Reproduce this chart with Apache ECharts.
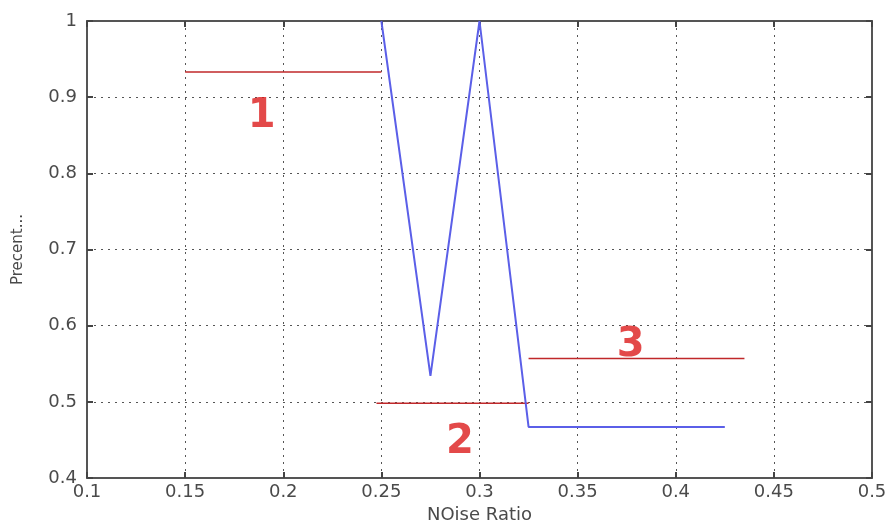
<!DOCTYPE html>
<html>
<head>
<meta charset="utf-8">
<script src="https://cdn.jsdelivr.net/npm/echarts@6/dist/echarts.min.js"></script>
<style>
  html, body { margin: 0; padding: 0; background: #fff; }
  #chart { width: 888px; height: 523px; }
</style>
</head>
<body>
<div id="chart"></div>
<script>
// Measured curve: noise ratio vs. precent
const noiseRatio = [0.25, 0.275, 0.3, 0.325, 0.425];
const precent = [1.0, 0.534, 1.0, 0.467, 0.467];

// Horizontal reference segments [xStart, xEnd, level]
const segment1 = [0.15, 0.25, 0.933];
const segment2 = [0.2475, 0.325, 0.498];
const segment3 = [0.325, 0.435, 0.557];

// Region labels and where they sit
const regionNames = ['1', '2', '3'];
const regionX = [0.189, 0.290, 0.377];
const regionY = [0.875, 0.447, 0.574];

// Axis ticks
const xTicks = [0.1, 0.15, 0.2, 0.25, 0.3, 0.35, 0.4, 0.45, 0.5];
const yTicks = [0.4, 0.5, 0.6, 0.7, 0.8, 0.9, 1];

const FONT = 'DejaVu Sans';
const chart = echarts.init(document.getElementById('chart'));

const seg = s => [[s[0], s[2]], [s[1], s[2]]];
const redStyle = { color: '#c0282a', width: 1.5 };

const gridLine = {
  show: true,
  lineStyle: { color: '#555', type: [2, 5], width: 1 }
};

const frameAxisLine = { show: true, lineStyle: { color: '#555', width: 2 } };
const frameTick = { show: true, inside: true, length: 6, lineStyle: { color: '#444', width: 2 } };

chart.setOption({
  animation: false,
  grid: {
    left: 87, right: 16, top: 21, bottom: 45, show: false,
    containLabel: false, outerBoundsMode: 'none'
  },
  xAxis: [
    {
      type: 'value', min: xTicks[0], max: xTicks[xTicks.length - 1], interval: 0.05,
      name: 'NOise Ratio', nameLocation: 'middle', nameGap: 26,
      nameTextStyle: { fontFamily: FONT, fontSize: 18, color: '#4a4a4a' },
      axisLine: frameAxisLine,
      axisTick: frameTick,
      axisLabel: { fontFamily: FONT, fontSize: 18, color: '#4a4a4a', margin: 5 },
      splitLine: gridLine
    },
    {
      type: 'value', position: 'top', min: xTicks[0], max: xTicks[xTicks.length - 1], interval: 0.05,
      axisLine: frameAxisLine,
      axisTick: frameTick,
      axisLabel: { show: false },
      splitLine: { show: false }
    }
  ],
  yAxis: [
    {
      type: 'value', min: yTicks[0], max: yTicks[yTicks.length - 1], interval: 0.1,
      name: 'Precent...', nameLocation: 'middle', nameGap: 61, nameRotate: 90,
      nameTextStyle: { fontFamily: FONT, fontSize: 15, color: '#4a4a4a' },
      axisLine: frameAxisLine,
      axisTick: frameTick,
      axisLabel: { fontFamily: FONT, fontSize: 18, color: '#4a4a4a', margin: 10,
        formatter: v => String(Math.round(v * 10) / 10) },
      splitLine: gridLine
    },
    {
      type: 'value', position: 'right', min: yTicks[0], max: yTicks[yTicks.length - 1], interval: 0.1,
      axisLine: frameAxisLine,
      axisTick: frameTick,
      axisLabel: { show: false },
      splitLine: { show: false }
    }
  ],
  series: [
    { type: 'line', data: seg(segment1), symbol: 'none', lineStyle: redStyle, z: 3 },
    { type: 'line', data: seg(segment2), symbol: 'none', lineStyle: redStyle, z: 3 },
    { type: 'line', data: seg(segment3), symbol: 'none', lineStyle: redStyle, z: 3 },
    {
      type: 'line',
      data: noiseRatio.map((x, i) => [x, precent[i]]),
      symbol: 'none',
      lineStyle: { color: '#5b5fe8', width: 2 },
      z: 4
    },
    {
      type: 'scatter',
      data: regionNames.map((n, i) => ({ value: [regionX[i], regionY[i]], name: n })),
      symbolSize: 0,
      label: {
        show: true, position: 'inside',
        formatter: p => p.name,
        fontFamily: FONT, fontWeight: 'bold', fontSize: 40, color: '#dc1c1c'
      },
      z: 5
    }
  ]
});
</script>
</body>
</html>
